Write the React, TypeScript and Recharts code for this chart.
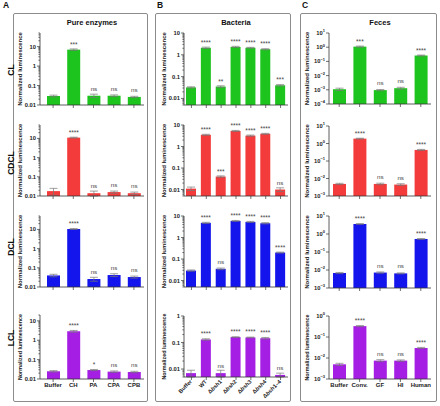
import React from "react"
import { BarChart, Bar, XAxis, YAxis, ErrorBar, LabelList } from "recharts"

const FONT = "'Liberation Sans', Arial, sans-serif"

const enzymeCats = ["Buffer", "CH", "PA", "CPA", "CPB"]
const bacteriaCats = ["Buffer", "WT", "Δbsh1", "Δbsh2", "Δbsh3", "Δbsh4", "Δbsh1–4"]
const fecesCats = ["Buffer", "Conv.", "GF", "HI", "Human"]

const rowNames = ["CL", "CDCL", "DCL", "LCL"]
const rowColors = ["#1ec41e", "#f43b3b", "#1414ec", "#a41ee4"]

// pure enzymes
const enzymeCL = [0.029, 7, 0.03, 0.03, 0.026]
const enzymeCDCL = [0.018, 11, 0.014, 0.016, 0.014]
const enzymeDCL = [0.04, 10.5, 0.026, 0.042, 0.033]
const enzymeLCL = [0.025, 2.9, 0.029, 0.024, 0.023]
const enzymeErrCL = [0.003, 0.6, 0.006, 0.003, 0.002]
const enzymeErrCDCL = [0.007, 0.6, 0.004, 0.002, 0.002]
const enzymeErrDCL = [0.006, 0.6, 0.006, 0.007, 0.004]
const enzymeErrLCL = [0.002, 0.3, 0.002, 0.002, 0.002]
const enzymeSigCL = ["", "***", "ns", "ns", "ns"]
const enzymeSigCDCL = ["", "****", "ns", "ns", "ns"]
const enzymeSigDCL = ["", "****", "ns", "ns", "ns"]
const enzymeSigLCL = ["", "****", "*", "ns", "ns"]

// bacteria
const bacteriaCL = [0.032, 2.1, 0.035, 2.3, 2.1, 1.8, 0.04]
const bacteriaCDCL = [0.011, 3.5, 0.04, 5.3, 3.2, 3.9, 0.01]
const bacteriaDCL = [0.029, 4.8, 0.035, 5.9, 5.3, 4.6, 0.2]
const bacteriaLCL = [0.007, 0.13, 0.007, 0.16, 0.155, 0.145, 0.006]
const bacteriaErrCL = [0.002, 0.15, 0.003, 0.15, 0.1, 0.1, 0.003]
const bacteriaErrCDCL = [0.002, 0.2, 0.003, 0.3, 0.2, 0.2, 0.002]
const bacteriaErrDCL = [0.002, 0.3, 0.003, 0.3, 0.3, 0.3, 0.01]
const bacteriaErrLCL = [0.002, 0.008, 0.002, 0.005, 0.005, 0.01, 0.001]
const bacteriaSigCL = ["", "****", "**", "****", "****", "****", "***"]
const bacteriaSigCDCL = ["", "****", "***", "****", "****", "****", "ns"]
const bacteriaSigDCL = ["", "****", "ns", "****", "****", "****", "****"]
const bacteriaSigLCL = ["", "****", "ns", "****", "****", "****", "ns"]

// feces
const fecesCL = [0.0011, 1.1, 0.00095, 0.0013, 0.26]
const fecesCDCL = [0.0049, 1.9, 0.0049, 0.0045, 0.43]
const fecesDCL = [0.0068, 3.6, 0.0072, 0.0065, 0.53]
const fecesLCL = [0.005, 0.33, 0.0075, 0.0075, 0.03]
const fecesErrCL = [0.0002, 0.1, 0.0001, 0.0002, 0.02]
const fecesErrCDCL = [0.0004, 0.1, 0.0005, 0.0005, 0.03]
const fecesErrDCL = [0.0005, 0.2, 0.0006, 0.0004, 0.03]
const fecesErrLCL = [0.0006, 0.02, 0.0008, 0.0006, 0.002]
const fecesSigCL = ["", "***", "ns", "ns", "****"]
const fecesSigCDCL = ["", "****", "ns", "ns", "****"]
const fecesSigDCL = ["", "****", "ns", "ns", "****"]
const fecesSigLCL = ["", "****", "ns", "ns", "****"]

const enzymeMajor = [0.01, 0.1, 1, 10]
const bacteriaMajor = [0.01, 0.1, 1, 10]
const bacteriaMajorLCL = [0.01, 0.1, 1]
const fecesMajorCL = [1e-4, 1e-3, 1e-2, 1e-1, 1, 10]
const fecesMajor = [1e-3, 1e-2, 1e-1, 1, 10]
const fecesMajorLCL = [1e-3, 1e-2, 1e-1, 1]

const columns = [
  {
    title: "Pure enzymes", letter: "A", letterX: 3, boxX: 13, boxW: 135,
    axisX: 40, right: 144, yw: 27, barSize: 13, padLeft: 3, sup: false, minor: true, rotate: false,
    cats: enzymeCats,
    values: [enzymeCL, enzymeCDCL, enzymeDCL, enzymeLCL],
    errors: [enzymeErrCL, enzymeErrCDCL, enzymeErrDCL, enzymeErrLCL],
    sigs: [enzymeSigCL, enzymeSigCDCL, enzymeSigDCL, enzymeSigLCL],
    majors: [enzymeMajor, enzymeMajor, enzymeMajor, enzymeMajor],
    domains: [[0.01, 50], [0.01, 50], [0.01, 50], [0.01, 20]],
    rows: [[33, 105], [125, 196], [216, 287], [315, 379]],
  },
  {
    title: "Bacteria", letter: "B", letterX: 157, boxX: 155, boxW: 136,
    axisX: 184, right: 288, yw: 27, barSize: 10, padLeft: 0, sup: false, minor: true, rotate: true,
    cats: bacteriaCats,
    values: [bacteriaCL, bacteriaCDCL, bacteriaDCL, bacteriaLCL],
    errors: [bacteriaErrCL, bacteriaErrCDCL, bacteriaErrDCL, bacteriaErrLCL],
    sigs: [bacteriaSigCL, bacteriaSigCDCL, bacteriaSigDCL, bacteriaSigLCL],
    majors: [bacteriaMajor, bacteriaMajor, bacteriaMajor, bacteriaMajorLCL],
    domains: [[0.005, 10], [0.005, 10], [0.005, 10], [0.005, 1]],
    rows: [[33, 105], [125, 196], [216, 287], [316, 377]],
  },
  {
    title: "Feces", letter: "C", letterX: 302, boxX: 300, boxW: 137,
    axisX: 329, right: 431, yw: 29, barSize: 13, padLeft: 0, sup: true, minor: false, rotate: false,
    cats: fecesCats,
    values: [fecesCL, fecesCDCL, fecesDCL, fecesLCL],
    errors: [fecesErrCL, fecesErrCDCL, fecesErrDCL, fecesErrLCL],
    sigs: [fecesSigCL, fecesSigCDCL, fecesSigDCL, fecesSigLCL],
    majors: [fecesMajorCL, fecesMajor, fecesMajor, fecesMajorLCL],
    domains: [[1e-4, 10], [1e-3, 10], [1e-3, 10], [1e-3, 1]],
    rows: [[33, 104], [126, 196], [216, 288], [316, 379]],
  },
]

const rowLabelY = [70, 163, 247, 338]

function logTicks(min: number, max: number, minor: boolean, majors: number[]) {
  if (!minor) return majors
  const out: number[] = []
  for (let e = Math.floor(Math.log10(min) + 1e-9); e <= Math.ceil(Math.log10(max)); e++) {
    for (let m = 1; m <= 9; m++) {
      const v = +(m * Math.pow(10, e)).toPrecision(6)
      if (v >= min * 0.999 && v <= max * 1.001) out.push(v)
    }
  }
  return out
}

const isMajor = (v: number, majors: number[]) => majors.some((m) => Math.abs(v - m) / m < 1e-6)

const fmtPlain = (v: number) => (v >= 1 ? String(Math.round(v)) : String(+v.toPrecision(1)))

function BactLabel({ name }: { name: string }) {
  if (!name.startsWith("Δ")) return <>{name}</>
  return (
    <>
      <tspan>Δ</tspan>
      <tspan fontStyle="italic">bsh</tspan>
      <tspan>{name.slice(4)}</tspan>
    </>
  )
}

const MT = 6

function Panel({ col, row }: { col: any; row: number }) {
  const [plotTop, plotBottom] = col.rows[row]
  const bottomRow = row === 3
  const xh = bottomRow ? (col.rotate ? 24 : 14) : 5
  const left = col.axisX - col.yw
  const width = col.right - left
  const height = MT + (plotBottom - plotTop) + xh
  const domain = col.domains[row]
  const majors = col.majors[row]
  const ticks = logTicks(domain[0], domain[1], col.minor, majors)
  const data = col.cats.map((c: string, i: number) => ({
    name: c,
    value: col.values[row][i],
    err: col.errors[row][i],
    sig: col.sigs[row][i],
  }))
  const fs = bottomRow ? 5.4 : 6

  const yTick = (p: any) => {
    const v = p.payload.value
    const major = isMajor(v, majors)
    const ax = col.yw
    const e = Math.round(Math.log10(v))
    return (
      <g>
        <line x1={ax - (major ? 3 : 1.6)} x2={ax} y1={p.y} y2={p.y} stroke="#333" strokeWidth={0.7} />
        {major &&
          (col.sup ? (
            <text x={ax - 4} y={p.y + 2} textAnchor="end" fontSize={5.8} fontWeight="bold" fill="#222" fontFamily={FONT}>
              10
              <tspan dy={-2.6} fontSize={4}>
                {e < 0 ? "−" + -e : String(e)}
              </tspan>
            </text>
          ) : (
            <text x={ax - 4} y={p.y + 2} textAnchor="end" fontSize={5.8} fontWeight="bold" fill="#222" fontFamily={FONT}>
              {fmtPlain(v)}
            </text>
          ))}
      </g>
    )
  }

  const xTick = (p: any) => {
    if (!bottomRow) return <g />
    const name = p.payload.value
    if (col.rotate) {
      const x = p.x + 1
      const y = p.y + 2
      return (
        <text x={x} y={y} transform={`rotate(-45, ${x}, ${y})`} textAnchor="end" fontSize={5.6} fontWeight="bold" fill="#222" fontFamily={FONT}>
          <BactLabel name={name} />
        </text>
      )
    }
    return (
      <text x={p.x} y={p.y + 5} textAnchor="middle" fontSize={6} fontWeight="bold" fill="#222" fontFamily={FONT}>
        {name}
      </text>
    )
  }

  const sigLabel = (p: any) => {
    const s = data[p.index]?.sig
    if (!s) return null
    const cx = p.x + p.width / 2
    const ns = s === "ns"
    return (
      <text x={cx} y={p.y - (ns ? 5 : 3)} textAnchor="middle" fontSize={ns ? 6.2 : 6.5} fill="#444" fontFamily={FONT}>
        {s}
      </text>
    )
  }

  return (
    <div style={{ position: "absolute", left, top: plotTop - MT }}>
      <BarChart width={width} height={height} data={data} margin={{ top: MT, right: 0, bottom: 0, left: 0 }}>
        <XAxis
          dataKey="name"
          height={xh}
          interval={0}
          tickSize={3}
          tickMargin={0}
          tick={xTick}
          tickLine={{ stroke: "#333", strokeWidth: 0.7 }}
          axisLine={{ stroke: "#333", strokeWidth: 0.8 }}
          padding={{ left: col.padLeft, right: 0 }}
        />
        <YAxis
          scale="log"
          type="number"
          domain={domain}
          allowDataOverflow
          ticks={ticks}
          interval={0}
          width={col.yw}
          tickLine={false}
          tick={yTick}
          axisLine={{ stroke: "#333", strokeWidth: 0.8 }}
          label={{
            content: (lp: any) => {
              const vb = lp.viewBox
              const x = 9
              const y = vb.y + vb.height / 2
              return (
                <text x={x} y={y} transform={`rotate(-90, ${x}, ${y})`} textAnchor="middle" fontSize={fs} fontWeight="bold" fill="#222" fontFamily={FONT}>
                  Normalized luminescence
                </text>
              )
            },
          }}
        />
        <Bar dataKey="value" fill={rowColors[row]} barSize={col.barSize} isAnimationActive={false}>
          <ErrorBar dataKey="err" width={4} stroke="#777" strokeWidth={0.7} direction="y" isAnimationActive={false} />
          <LabelList dataKey="sig" content={sigLabel} />
        </Bar>
      </BarChart>
    </div>
  )
}

export default function App() {
  return (
    <div style={{ position: "absolute", left: 0, top: 0, width: 440, height: 406, background: "#fff", fontFamily: FONT }}>
      {columns.map((col) => (
        <React.Fragment key={col.letter}>
          <div
            style={{
              position: "absolute",
              left: col.boxX,
              top: 13,
              width: col.boxW,
              height: 389,
              border: "1px solid #8c8c8c",
              borderRadius: 2,
              boxSizing: "border-box",
            }}
          />
          <div style={{ position: "absolute", left: col.letterX, top: 0, fontSize: 8.5, fontWeight: "bold", color: "#111" }}>
            {col.letter}
          </div>
          <div
            style={{
              position: "absolute",
              left: (col.axisX + col.right) / 2 - 40,
              width: 80,
              top: 18,
              textAlign: "center",
              fontSize: 7.5,
              fontWeight: "bold",
              color: "#111",
            }}
          >
            {col.title}
          </div>
          {rowNames.map((r, i) => (
            <Panel key={r} col={col} row={i} />
          ))}
        </React.Fragment>
      ))}
      <svg width={20} height={406} style={{ position: "absolute", left: 0, top: 0 }}>
        {rowNames.map((r, i) => (
          <text
            key={r}
            x={14}
            y={rowLabelY[i]}
            transform={`rotate(-90, 14, ${rowLabelY[i]})`}
            textAnchor="middle"
            fontSize={8.5}
            fontWeight="bold"
            fill="#111"
            fontFamily={FONT}
          >
            {r}
          </text>
        ))}
      </svg>
    </div>
  )
}
